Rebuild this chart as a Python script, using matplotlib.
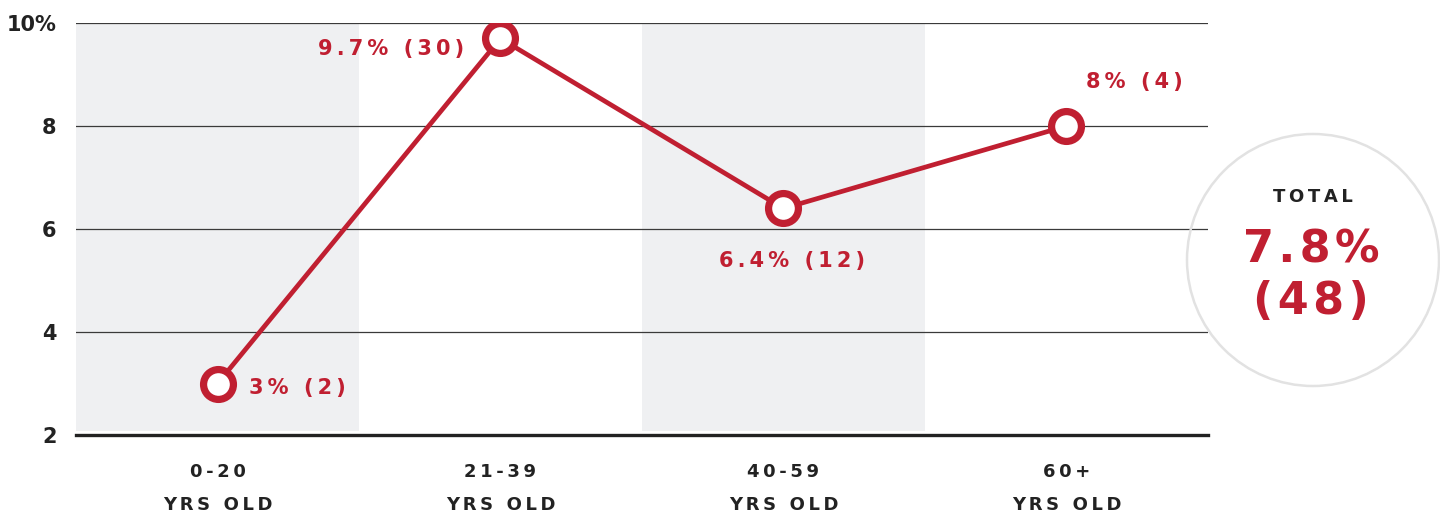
import matplotlib.pyplot as plt
from matplotlib.patches import Circle

plt.rcParams['font.family'] = ['DejaVu Sans']

# data
groups = ['0-20\nYRS OLD', '21-39\nYRS OLD', '40-59\nYRS OLD', '60+\nYRS OLD']
rates = [3.0, 9.7, 6.4, 8.0]
counts = [2, 30, 12, 4]
point_labels = ['3% (2)', '9.7% (30)', '6.4% (12)', '8% (4)']
yticks = [2, 4, 6, 8, 10]
ytick_labels = ['2', '4', '6', '8', '10%']
total_rate = '7.8%'
total_count = '(48)'

RED = '#c01f31'
DARK = '#222222'
BAND = '#eff0f2'


def spaced(s, sep='\u200a'):
    # fake letter spacing
    return sep.join(s)


fig = plt.figure(figsize=(14.4, 5.19), dpi=100)
ax = fig.add_axes([0.0528, 0.1618, 0.786, 0.7938])

x = list(range(len(groups)))

# shaded bands for alternate groups
for i in x:
    if i % 2 == 0:
        ax.fill_between([i - 0.5, i + 0.5], 2.08, 10, color=BAND, zorder=0, lw=0)

for y in yticks[1:]:
    ax.axhline(y, color='#3a3a3a', lw=0.9, zorder=1)
ax.axhline(2, color=DARK, lw=2.4, zorder=2, clip_on=False)

ax.plot(x, rates, color=RED, lw=3.4, zorder=3,
        marker='o', ms=21.5, mfc='white', mec=RED, mew=5.2)

# point labels
offsets = [((0.11, -0.08), 'left', 'center'),
           ((-0.13, -0.2), 'right', 'center'),
           ((0.03, -1.02), 'center', 'center'),
           ((0.24, 0.85), 'center', 'center')]
for xi, yi, lab, (off, ha, va) in zip(x, rates, point_labels, offsets):
    ax.text(xi + off[0], yi + off[1], spaced(lab, '\u2009'), color=RED, fontsize=15,
            fontweight='bold', ha=ha, va=va, zorder=4)

ax.set_xlim(-0.5, 3.5)
ax.set_ylim(2, 10)
ax.set_yticks(yticks)
ax.set_yticklabels(ytick_labels, fontsize=15, fontweight='bold', color=DARK)
ax.set_xticks(x)
ax.set_xticklabels([spaced(g.split('\n')[0], '\u2009') + '\n' + spaced(g.split('\n')[1], '\u2009')
                    for g in groups],
                   fontsize=13, fontweight='bold', color=DARK, linespacing=2.1)
ax.tick_params(axis='y', length=0, pad=14)
ax.tick_params(axis='x', length=0, pad=20)
for s in ax.spines.values():
    s.set_visible(False)

# total circle
circ = Circle((13.13, 5.19 - 2.60), 1.26, transform=fig.dpi_scale_trans,
              fill=False, ec='#e2e2e2', lw=1.8)
fig.patches.append(circ)

fig.text(1313 / 1440, 1 - 197 / 519, spaced('TOTAL', '\u2009'), ha='center', va='center',
         fontsize=13, fontweight='bold', color=DARK)
fig.text(1311 / 1440, 1 - 250 / 519, spaced(total_rate, '\u200a'), ha='center', va='center',
         fontsize=32, fontweight='bold', color=RED)
fig.text(1311 / 1440, 1 - 302 / 519, spaced(total_count, '\u200a'), ha='center', va='center',
         fontsize=32, fontweight='bold', color=RED)

fig.savefig('out.png', dpi=100)
